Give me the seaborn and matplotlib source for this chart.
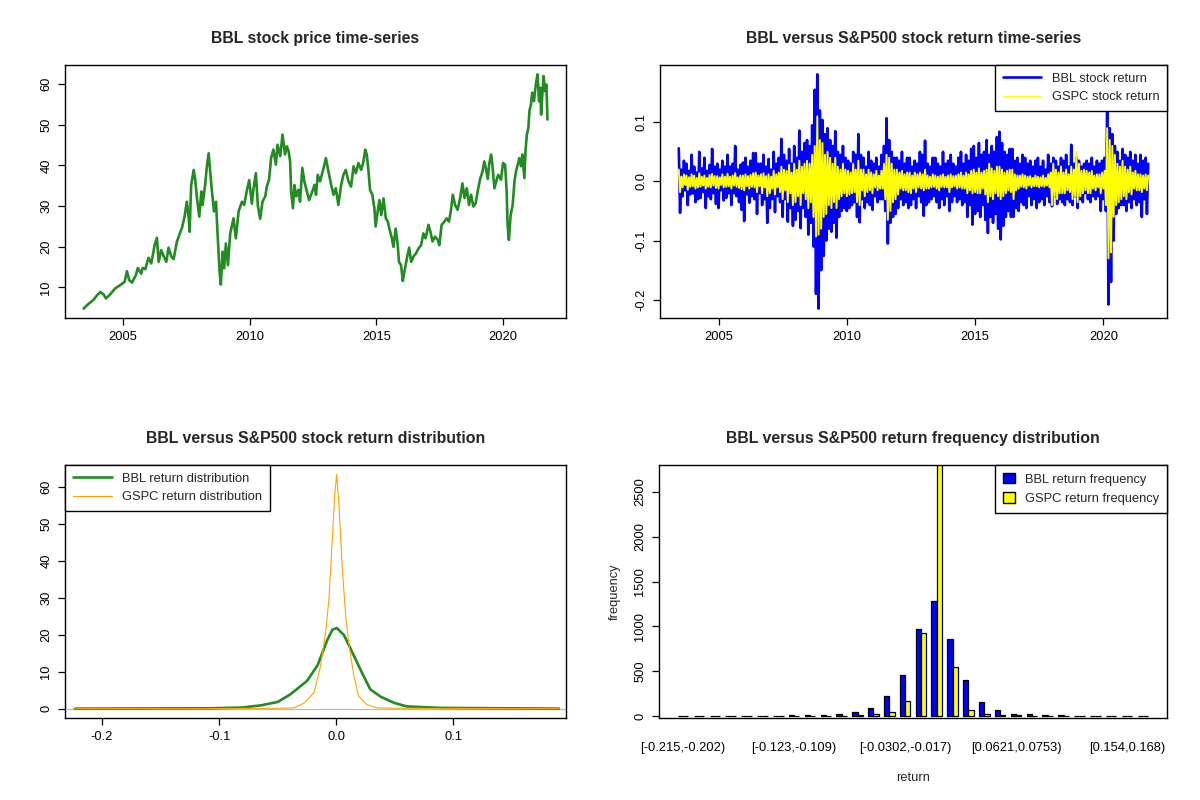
import numpy as np
import pandas as pd
import matplotlib
matplotlib.use("Agg")
import matplotlib.pyplot as plt
import seaborn as sns
from matplotlib.patches import Patch
from matplotlib.lines import Line2D

# BBL closing price (fractional year, price)
price_year = [2003.46, 2003.66, 2003.86, 2003.99, 2004.12, 2004.25, 2004.34, 2004.51, 2004.71, 2004.91,
              2005.08, 2005.17, 2005.26, 2005.37, 2005.52, 2005.60, 2005.73, 2005.79, 2005.89, 2006.02,
              2006.13, 2006.26, 2006.35, 2006.42, 2006.52, 2006.61, 2006.72, 2006.81, 2006.92, 2007.01,
              2007.14, 2007.23, 2007.34, 2007.44, 2007.53, 2007.60, 2007.64, 2007.70, 2007.80, 2007.86,
              2007.93, 2008.02, 2008.10, 2008.15, 2008.25, 2008.32, 2008.39, 2008.45, 2008.52, 2008.60,
              2008.68, 2008.73, 2008.78, 2008.82, 2008.87, 2008.94, 2009.00, 2009.07, 2009.15, 2009.24,
              2009.37, 2009.46, 2009.57, 2009.70, 2009.79, 2009.90, 2009.99, 2010.09, 2010.16, 2010.25,
              2010.33, 2010.42, 2010.51, 2010.62, 2010.68, 2010.77, 2010.85, 2010.94, 2011.04, 2011.10,
              2011.21, 2011.30, 2011.40, 2011.47, 2011.54, 2011.60, 2011.64, 2011.71, 2011.77, 2011.84,
              2011.93, 2011.99, 2012.08, 2012.16, 2012.26, 2012.35, 2012.45, 2012.56, 2012.62, 2012.69,
              2012.78, 2012.92, 2013.01, 2013.11, 2013.22, 2013.31, 2013.40, 2013.50, 2013.61, 2013.70,
              2013.79, 2013.90, 2014.00, 2014.10, 2014.19, 2014.29, 2014.40, 2014.49, 2014.56, 2014.62,
              2014.69, 2014.75, 2014.84, 2014.92, 2014.97, 2015.05, 2015.12, 2015.19, 2015.28, 2015.37,
              2015.45, 2015.51, 2015.61, 2015.67, 2015.76, 2015.84, 2015.89, 2015.97, 2016.04, 2016.10,
              2016.20, 2016.29, 2016.37, 2016.46, 2016.56, 2016.66, 2016.76, 2016.85, 2016.94, 2017.05,
              2017.13, 2017.21, 2017.31, 2017.42, 2017.48, 2017.57, 2017.68, 2017.77, 2017.86, 2017.94,
              2018.01, 2018.10, 2018.20, 2018.30, 2018.39, 2018.47, 2018.56, 2018.65, 2018.73, 2018.82,
              2018.91, 2018.99, 2019.08, 2019.18, 2019.25, 2019.31, 2019.39, 2019.44, 2019.52, 2019.57,
              2019.65, 2019.74, 2019.80, 2019.91, 2019.99, 2020.07, 2020.13, 2020.17, 2020.22, 2020.29,
              2020.37, 2020.44, 2020.50, 2020.57, 2020.63, 2020.70, 2020.75, 2020.83, 2020.88, 2020.93,
              2020.99, 2021.03, 2021.09, 2021.14, 2021.21, 2021.28, 2021.35, 2021.41, 2021.46, 2021.49,
              2021.54, 2021.59, 2021.64, 2021.70, 2021.74]
price_val = [4.8, 6.0, 7.0, 8.1, 8.9, 8.3, 7.3, 8.3, 9.8, 10.6,
             11.4, 14.0, 11.8, 11.2, 13.0, 14.8, 13.4, 14.8, 14.5, 17.3,
             15.9, 20.4, 22.2, 16.3, 19.2, 17.8, 16.3, 19.8, 17.6, 17.0,
             21.3, 22.9, 24.7, 27.4, 31.1, 27.4, 23.7, 35.2, 38.9, 36.5,
             31.9, 27.4, 33.6, 30.3, 35.2, 39.8, 43.0, 38.5, 33.6, 28.7,
             31.1, 24.5, 18.8, 13.9, 10.7, 18.8, 14.7, 20.8, 15.5, 23.3,
             27.0, 22.1, 28.7, 31.1, 30.3, 34.0, 36.4, 30.6, 34.4, 38.1,
             30.0, 26.9, 31.1, 32.4, 34.8, 36.5, 41.8, 43.9, 40.2, 45.1,
             42.3, 47.6, 42.7, 44.7, 43.5, 41.0, 33.6, 29.5, 35.2, 32.4,
             34.0, 31.1, 39.4, 36.1, 33.6, 31.5, 33.2, 35.2, 32.8, 37.7,
             36.1, 39.4, 41.8, 38.5, 35.2, 32.8, 34.4, 30.3, 35.2, 37.7,
             38.9, 36.1, 34.8, 39.8, 38.1, 40.6, 38.9, 41.0, 43.9, 42.7,
             38.5, 34.0, 32.8, 29.5, 25.0, 28.7, 31.5, 27.8, 31.9, 27.0,
             26.2, 24.5, 22.1, 20.0, 24.5, 20.4, 16.3, 15.5, 11.6, 13.8,
             17.1, 19.8, 16.3, 17.6, 18.4, 19.6, 20.4, 23.3, 22.1, 25.4,
             23.7, 21.3, 22.5, 21.7, 20.4, 25.4, 26.2, 27.0, 26.2, 29.1,
             32.8, 30.3, 29.1, 32.0, 35.6, 32.0, 34.4, 30.3, 32.8, 29.9,
             30.7, 33.6, 36.5, 38.5, 41.0, 39.4, 36.7, 40.2, 42.7, 40.2,
             34.4, 36.5, 37.7, 36.5, 40.6, 40.2, 34.0, 25.4, 21.7, 27.8,
             30.3, 36.1, 38.5, 40.2, 41.8, 39.8, 42.7, 36.9, 44.0, 47.6,
             49.3, 53.4, 55.0, 57.9, 55.8, 59.9, 62.4, 55.8, 59.1, 52.5,
             57.5, 62.0, 58.3, 59.9, 51.3]

# daily returns, sampled as alternating highs/lows of the band (every ~0.05 year)
bbl_ret = [0.056, -0.053, 0.020, -0.025, 0.035, -0.015, 0.030, -0.040, 0.018, -0.022,
           0.045, -0.020, 0.025, -0.035, 0.015, -0.030, 0.050, -0.028, 0.022, -0.018,
           0.040, -0.045, 0.018, -0.025, 0.028, -0.030, 0.055, -0.020, 0.025, -0.038,
           0.030, -0.045, 0.020, -0.015, 0.035, -0.032, 0.025, -0.028, 0.045, -0.020,
           0.025, -0.040, 0.030, -0.020, 0.060, -0.025, 0.020, -0.035, 0.028, -0.048,
           0.032, -0.067, 0.040, -0.022, 0.025, -0.036, 0.035, -0.025, 0.048, -0.030,
           0.048, -0.055, 0.030, -0.020, 0.030, -0.040, 0.045, -0.030, 0.025, -0.070,
           0.038, -0.045, 0.020, -0.030, 0.050, -0.052, 0.030, -0.025, 0.040, -0.035,
           0.072, -0.060, 0.045, -0.030, 0.035, -0.068, 0.055, -0.045, 0.030, -0.075,
           0.060, -0.065, 0.040, -0.050, 0.086, -0.079, 0.050, -0.045, 0.065, -0.060,
           0.070, -0.090, 0.060, -0.070, 0.095, -0.110, 0.155, -0.190, 0.181, -0.215,
           0.120, -0.150, 0.104, -0.126, 0.080, -0.100, 0.090, -0.080, 0.070, -0.085,
           0.060, -0.070, 0.085, -0.095, 0.050, -0.060, 0.045, -0.050, 0.060, -0.045,
           0.040, -0.050, 0.035, -0.045, 0.030, -0.040, 0.050, -0.035, 0.045, -0.060,
           0.080, -0.069, 0.045, -0.030, 0.040, -0.045, 0.025, -0.035, 0.050, -0.040,
           0.035, -0.048, 0.030, -0.025, 0.040, -0.035, 0.025, -0.030, 0.045, -0.030,
           0.060, -0.050, 0.107, -0.105, 0.070, -0.070, 0.050, -0.060, 0.040, -0.055,
           0.040, -0.045, 0.035, -0.030, 0.050, -0.040, 0.030, -0.035, 0.040, -0.045,
           0.040, -0.040, 0.025, -0.030, 0.035, -0.045, 0.030, -0.025, 0.050, -0.035,
           0.045, -0.058, 0.069, -0.040, 0.030, -0.035, 0.025, -0.030, 0.040, -0.025,
           0.040, -0.035, 0.030, -0.045, 0.025, -0.030, 0.050, -0.040, 0.030, -0.025,
           0.035, -0.050, 0.045, -0.035, 0.030, -0.025, 0.025, -0.035, 0.040, -0.030,
           0.050, -0.040, 0.030, -0.035, 0.045, -0.060, 0.035, -0.040, 0.055, -0.073,
           0.060, -0.055, 0.040, -0.050, 0.065, -0.060, 0.045, -0.040, 0.050, -0.065,
           0.070, -0.087, 0.045, -0.060, 0.060, -0.070, 0.050, -0.055, 0.075, -0.080,
           0.084, -0.098, 0.065, -0.075, 0.050, -0.060, 0.045, -0.050, 0.055, -0.060,
           0.055, -0.060, 0.035, -0.045, 0.040, -0.050, 0.030, -0.035, 0.045, -0.040,
           0.040, -0.045, 0.030, -0.025, 0.035, -0.040, 0.025, -0.030, 0.035, -0.045,
           0.040, -0.035, 0.025, -0.030, 0.035, -0.040, 0.020, -0.025, 0.045, -0.035,
           0.030, -0.042, 0.040, -0.025, 0.035, -0.038, 0.025, -0.030, 0.040, -0.035,
           0.035, -0.040, 0.045, -0.030, 0.025, -0.035, 0.062, -0.040, 0.030, -0.025,
           0.040, -0.045, 0.035, -0.030, 0.025, -0.035, 0.030, -0.020, 0.035, -0.030,
           0.030, -0.035, 0.040, -0.025, 0.025, -0.030, 0.035, -0.025, 0.030, -0.050,
           0.035, -0.030, 0.040, -0.050, 0.120, -0.208, 0.090, -0.170, 0.080, -0.100,
           0.060, -0.055, 0.050, -0.045, 0.035, -0.040, 0.055, -0.040, 0.045, -0.050,
           0.040, -0.035, 0.050, -0.045, 0.035, -0.030, 0.045, -0.040, 0.030, -0.035,
           0.045, -0.060, 0.035, -0.030, 0.040, -0.055, 0.030]
gspc_ret = [0.020, -0.018, 0.008, -0.010, 0.012, -0.006, 0.010, -0.014, 0.007, -0.009,
            0.012, -0.008, 0.010, -0.012, 0.006, -0.010, 0.014, -0.009, 0.008, -0.007,
            0.010, -0.012, 0.006, -0.009, 0.011, -0.010, 0.013, -0.007, 0.009, -0.011,
            0.009, -0.012, 0.007, -0.006, 0.012, -0.010, 0.008, -0.009, 0.013, -0.008,
            0.008, -0.012, 0.010, -0.007, 0.014, -0.009, 0.007, -0.011, 0.010, -0.013,
            0.010, -0.015, 0.012, -0.008, 0.009, -0.012, 0.011, -0.009, 0.014, -0.010,
            0.015, -0.018, 0.010, -0.008, 0.012, -0.020, 0.014, -0.010, 0.009, -0.025,
            0.012, -0.020, 0.008, -0.012, 0.018, -0.022, 0.012, -0.010, 0.015, -0.018,
            0.025, -0.030, 0.020, -0.015, 0.018, -0.035, 0.028, -0.020, 0.015, -0.040,
            0.030, -0.035, 0.020, -0.025, 0.035, -0.040, 0.025, -0.020, 0.030, -0.030,
            0.035, -0.045, 0.030, -0.035, 0.045, -0.060, 0.060, -0.093, 0.110, -0.090,
            0.070, -0.080, 0.065, -0.060, 0.045, -0.055, 0.050, -0.040, 0.040, -0.045,
            0.030, -0.035, 0.040, -0.045, 0.025, -0.030, 0.020, -0.025, 0.030, -0.020,
            0.020, -0.025, 0.018, -0.022, 0.015, -0.020, 0.030, -0.018, 0.020, -0.035,
            0.035, -0.040, 0.020, -0.015, 0.020, -0.025, 0.012, -0.018, 0.020, -0.015,
            0.015, -0.020, 0.012, -0.010, 0.018, -0.015, 0.010, -0.012, 0.018, -0.012,
            0.030, -0.030, 0.045, -0.065, 0.040, -0.050, 0.030, -0.035, 0.020, -0.030,
            0.020, -0.022, 0.015, -0.012, 0.018, -0.015, 0.012, -0.015, 0.015, -0.018,
            0.015, -0.020, 0.010, -0.012, 0.015, -0.018, 0.012, -0.010, 0.015, -0.012,
            0.012, -0.015, 0.020, -0.012, 0.010, -0.012, 0.008, -0.010, 0.012, -0.009,
            0.010, -0.012, 0.008, -0.015, 0.010, -0.009, 0.012, -0.010, 0.008, -0.010,
            0.010, -0.018, 0.012, -0.010, 0.009, -0.008, 0.010, -0.012, 0.012, -0.010,
            0.015, -0.012, 0.010, -0.012, 0.015, -0.020, 0.012, -0.015, 0.018, -0.020,
            0.020, -0.018, 0.015, -0.020, 0.022, -0.020, 0.015, -0.012, 0.018, -0.022,
            0.020, -0.035, 0.030, -0.025, 0.022, -0.030, 0.018, -0.020, 0.025, -0.025,
            0.025, -0.030, 0.020, -0.025, 0.015, -0.020, 0.018, -0.015, 0.020, -0.018,
            0.020, -0.030, 0.012, -0.015, 0.010, -0.012, 0.010, -0.009, 0.012, -0.010,
            0.010, -0.012, 0.008, -0.007, 0.009, -0.010, 0.006, -0.008, 0.010, -0.008,
            0.008, -0.010, 0.007, -0.008, 0.010, -0.009, 0.006, -0.007, 0.012, -0.010,
            0.015, -0.040, 0.030, -0.025, 0.020, -0.030, 0.015, -0.020, 0.025, -0.020,
            0.015, -0.020, 0.020, -0.015, 0.012, -0.018, 0.025, -0.030, 0.020, -0.025,
            0.050, -0.035, 0.030, -0.025, 0.018, -0.020, 0.020, -0.015, 0.018, -0.020,
            0.015, -0.020, 0.018, -0.012, 0.010, -0.015, 0.012, -0.010, 0.012, -0.020,
            0.015, -0.012, 0.018, -0.040, 0.090, -0.130, 0.070, -0.120, 0.060, -0.060,
            0.045, -0.040, 0.030, -0.035, 0.025, -0.030, 0.035, -0.025, 0.025, -0.030,
            0.020, -0.018, 0.025, -0.022, 0.015, -0.012, 0.018, -0.015, 0.012, -0.015,
            0.012, -0.018, 0.010, -0.012, 0.012, -0.015, 0.010]
ret_start, ret_end = 2003.45, 2021.75

# kernel density curves (return, density)
bbl_dens_x = [-0.223, -0.107, -0.080, -0.064, -0.050, -0.039, -0.025, -0.016, -0.0076, -0.0034,
              0.0003, 0.0065, 0.012, 0.021, 0.029, 0.038, 0.049, 0.060, 0.089, 0.190]
bbl_dens_y = [0.0, 0.1, 0.3, 0.9, 1.8, 3.9, 7.5, 11.7, 18.6, 21.3,
              21.8, 19.9, 16.3, 10.3, 5.2, 3.2, 1.6, 0.6, 0.2, 0.0]
gspc_dens_x = [-0.223, -0.120, -0.080, -0.050, -0.036, -0.0275, -0.019, -0.0133, -0.009, -0.0062,
               -0.0034, -0.0014, 0.0003, 0.0023, 0.005, 0.0079, 0.0108, 0.015, 0.019, 0.026,
               0.035, 0.050, 0.090, 0.190]
gspc_dens_y = [0.0, 0.0, 0.05, 0.1, 0.2, 1.5, 4.3, 11.7, 20.9, 30.0,
               45.7, 57.6, 63.3, 54.9, 38.3, 25.5, 17.2, 8.9, 3.4, 1.1,
               0.2, 0.1, 0.05, 0.0]

# return frequency per bin (30 bins from -0.215)
bin_labels = ["[-0.215,-0.202)", "[-0.202,-0.189)", "[-0.189,-0.176)", "[-0.176,-0.162)",
              "[-0.162,-0.149)", "[-0.149,-0.136)", "[-0.136,-0.123)", "[-0.123,-0.109)",
              "[-0.109,-0.0961)", "[-0.0961,-0.0829)", "[-0.0829,-0.0697)", "[-0.0697,-0.0566)",
              "[-0.0566,-0.0434)", "[-0.0434,-0.0302)", "[-0.0302,-0.017)", "[-0.017,-0.00382)",
              "[-0.00382,0.00936)", "[0.00936,0.0225)", "[0.0225,0.0357)", "[0.0357,0.0489)",
              "[0.0489,0.0621)", "[0.0621,0.0753)", "[0.0753,0.0885)", "[0.0885,0.102)",
              "[0.102,0.115)", "[0.115,0.128)", "[0.128,0.141)", "[0.141,0.154)",
              "[0.154,0.168)", "[0.168,0.181)"]
bbl_freq = [1, 1, 1, 1, 2, 2, 5, 8, 8, 12, 30, 50, 95, 230, 460,
            970, 1280, 860, 405, 160, 72, 30, 28, 12, 10, 2, 1, 1, 2, 1]
gspc_freq = [0, 0, 0, 0, 0, 0, 2, 1, 2, 3, 4, 10, 25, 48, 175,
             925, 2850, 548, 72, 25, 15, 8, 5, 2, 1, 0, 0, 0, 0, 0]
shown_bins = [0, 7, 14, 21, 28]

sns.set_style("ticks")
plt.rcParams["font.family"] = ["Liberation Sans", "DejaVu Sans"]
plt.rcParams["axes.linewidth"] = 1.0
plt.rcParams["axes.xmargin"] = 0.04
plt.rcParams["axes.ymargin"] = 0.04

fig = plt.figure(figsize=(12, 8), dpi=100)
ax1 = fig.add_axes([65 / 1200, 1 - 318 / 800, 501 / 1200, 253 / 800])
ax2 = fig.add_axes([660 / 1200, 1 - 318 / 800, 507 / 1200, 253 / 800])
ax3 = fig.add_axes([65 / 1200, 1 - 718 / 800, 501 / 1200, 253 / 800])
ax4 = fig.add_axes([659 / 1200, 1 - 718 / 800, 508 / 1200, 253 / 800])

FS = 9.3
THICK, THIN = 1.9, 0.8
title_kw = dict(fontsize=11.4, fontweight="bold", pad=16)
leg_kw = dict(frameon=True, fancybox=False, edgecolor="black", framealpha=1,
              borderaxespad=0, fontsize=FS, borderpad=0.6)


def style_axis(ax):
    for s in ax.spines.values():
        s.set_visible(True)
        s.set_color("black")
    ax.tick_params(axis="both", labelsize=FS, length=5, width=0.9, pad=4, colors="black")
    for lab in ax.get_yticklabels():
        lab.set_rotation(90)
        lab.set_va("center")
    ax.set_xlabel("")
    ax.set_ylabel("")


# price series
sns.lineplot(x=price_year, y=price_val, ax=ax1, color="forestgreen", linewidth=THICK,
             estimator=None, sort=False)
ax1.set_xticks([2005, 2010, 2015, 2020])
ax1.set_xticklabels(["2005", "2010", "2015", "2020"])
ax1.set_yticks([10, 20, 30, 40, 50, 60])
ax1.set_title("BBL stock price time-series", **title_kw)
style_axis(ax1)

# return series; the GSPC trace is drawn a bit wider so its dense band reads as solid
ret_year = np.linspace(ret_start, ret_end, len(bbl_ret))
ret_df = pd.DataFrame({"year": ret_year, "bbl": bbl_ret, "gspc": gspc_ret})
sns.lineplot(data=ret_df, x="year", y="bbl", ax=ax2, color="blue", linewidth=THICK,
             estimator=None, sort=False)
sns.lineplot(data=ret_df, x="year", y="gspc", ax=ax2, color="yellow", linewidth=1.4,
             estimator=None, sort=False)
ax2.set_xticks([2005, 2010, 2015, 2020])
ax2.set_xticklabels(["2005", "2010", "2015", "2020"])
ax2.set_yticks([-0.2, -0.1, 0.0, 0.1])
ax2.set_yticklabels(["-0.2", "-0.1", "0.0", "0.1"])
ax2.set_title("BBL versus S&P500 stock return time-series", **title_kw)
ax2.legend(handles=[Line2D([], [], color="blue", lw=THICK), Line2D([], [], color="yellow", lw=THIN)],
           labels=["BBL stock return", "GSPC stock return"], loc="upper right",
           handlelength=3.0, **leg_kw)
style_axis(ax2)

# density
ax3.axhline(0, color="#bebebe", linewidth=1)
sns.lineplot(x=bbl_dens_x, y=bbl_dens_y, ax=ax3, color="forestgreen", linewidth=THICK,
             estimator=None, sort=False)
sns.lineplot(x=gspc_dens_x, y=gspc_dens_y, ax=ax3, color="orange", linewidth=THIN,
             estimator=None, sort=False)
ax3.set_xlim(-0.2315, 0.196)
ax3.set_xticks([-0.2, -0.1, 0.0, 0.1])
ax3.set_xticklabels(["-0.2", "-0.1", "0.0", "0.1"])
ax3.set_yticks([0, 10, 20, 30, 40, 50, 60])
ax3.set_title("BBL versus S&P500 stock return distribution", **title_kw)
ax3.legend(handles=[Line2D([], [], color="forestgreen", lw=THICK), Line2D([], [], color="orange", lw=THIN)],
           labels=["BBL return distribution", "GSPC return distribution"], loc="upper left",
           handlelength=3.0, **leg_kw)
style_axis(ax3)

# frequency bars
freq_df = pd.DataFrame({
    "bin": bin_labels * 2,
    "freq": bbl_freq + gspc_freq,
    "series": ["BBL return frequency"] * len(bin_labels) + ["GSPC return frequency"] * len(bin_labels),
})
sns.barplot(data=freq_df, x="bin", y="freq", hue="series", order=bin_labels,
            palette=["blue", "yellow"], width=2 / 3, edgecolor="black", linewidth=0.9,
            saturation=1, ax=ax4, legend=False)
ax4.set_xlim(-1.52, len(bin_labels) - 1 + 1.52)
ax4.set_ylim(-20, 2800)
ax4.set_xticks(shown_bins)
ax4.set_xticklabels([bin_labels[i] for i in shown_bins])
ax4.set_yticks([0, 500, 1000, 1500, 2000, 2500])
ax4.set_title("BBL versus S&P500 return frequency distribution", **title_kw)
style_axis(ax4)
ax4.tick_params(axis="x", length=0, pad=17)
ax4.set_xlabel("return", fontsize=FS, labelpad=13)
ax4.set_ylabel("frequency", fontsize=FS, labelpad=10)
ax4.legend(handles=[Patch(facecolor="blue", edgecolor="black"), Patch(facecolor="yellow", edgecolor="black")],
           labels=["BBL return frequency", "GSPC return frequency"], loc="upper right",
           handlelength=0.9, handleheight=0.9, **leg_kw)

fig.savefig("out.png", dpi=100)
